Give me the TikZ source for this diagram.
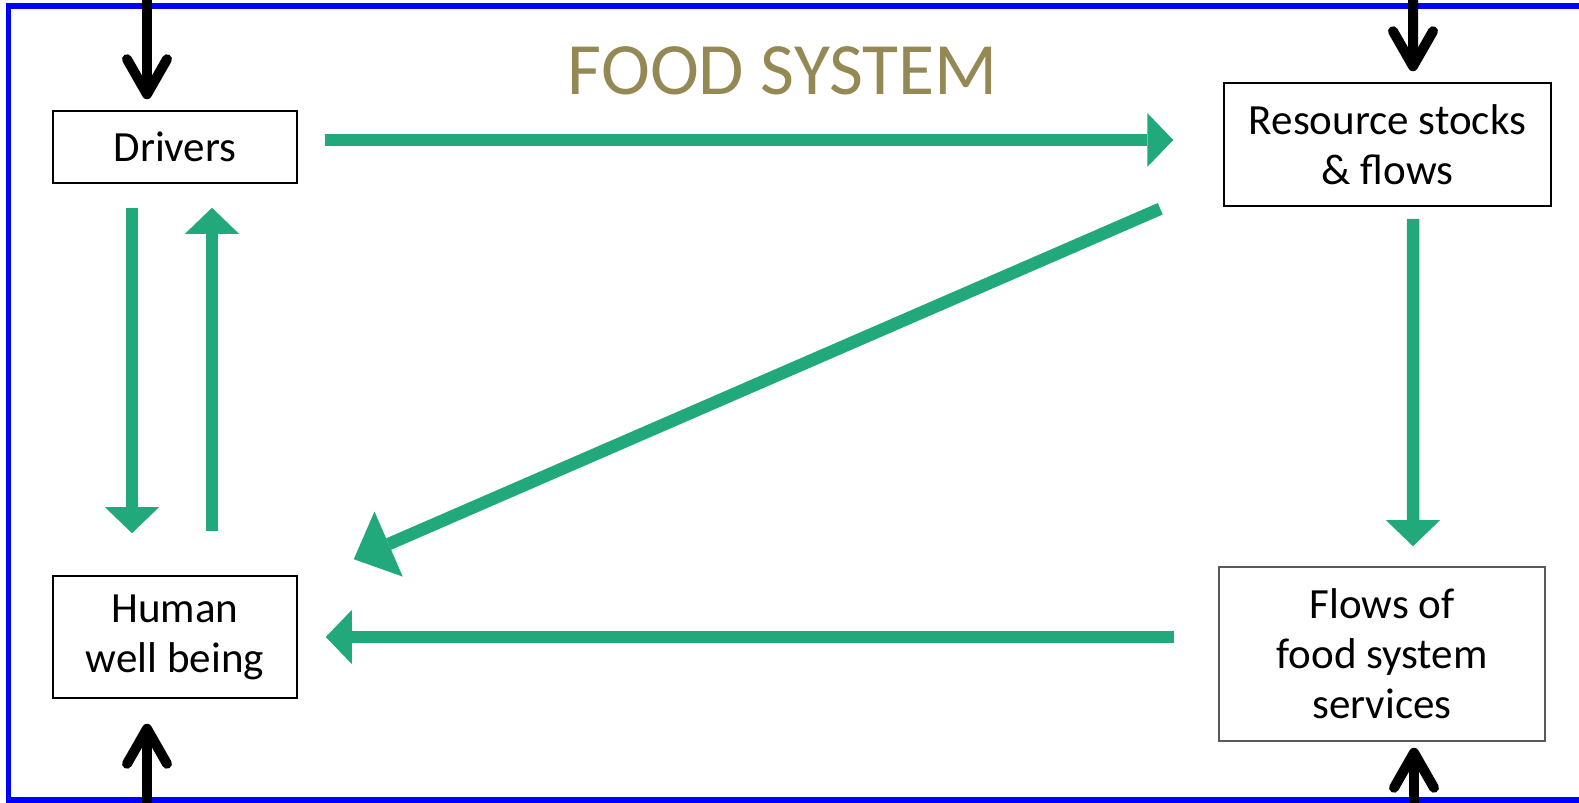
\documentclass[tikz,border=0pt]{standalone}
\usepackage{fontspec}
\setmainfont{Carlito}
\usetikzlibrary{arrows.meta, calc}
\definecolor{flowgreen}{RGB}{33,169,123}
\definecolor{titleolive}{RGB}{148,137,84}

\begin{document}
\begin{tikzpicture}[
        x=0.02cm, y=-0.02cm,
        box/.style={
            draw,
            rectangle,
            line width=0.9pt,
            inner sep=0pt,
            align=center,
            font=\fontsize{24.5}{28.5}\selectfont
        },
        flow/.style={-{Triangle[length=0.52cm, width=1.08cm, line width=0pt]}, line width=0.25cm, draw=flowgreen},
        bigflow/.style={-{Triangle[length=0.76cm, width=1.42cm, line width=0pt]}, line width=0.25cm, draw=flowgreen},
        outside/.style={-{Straight Barb[round, length=0.7cm, width=0.8cm]}, line width=0.2cm, line cap=round}
    ]
    \useasboundingbox (0,0) rectangle (1579,803);

    % Food system frame (open on the right)
    \draw[blue, line width=0.12cm] (1600,6) -- (8.5,6) -- (8.5,800) -- (1600,800);

    % Title
    \node[text=titleolive, font=\fontsize{42}{50}\selectfont] (title) at (783,71) {FOOD SYSTEM};

    % Corner boxes
    \node[box, minimum width=4.88cm, minimum height=1.44cm] (drivers) at (175,147) {Drivers};
    \node[box, minimum width=6.54cm, minimum height=2.46cm] (resource) at (1387.5,144.5) {Resource stocks\\ \& flows};
    \node[box, minimum width=4.88cm, minimum height=2.44cm] (human) at (175,637) {Human\\ well being};
    \node[box, draw=black!65, minimum width=6.52cm, minimum height=3.48cm] (flows) at (1382,654) {Flows of\\ food system\\ services};

    % Outside inputs
    \coordinate (topleft) at (147,-10);
    \coordinate (topright) at (1413,-10);
    \coordinate (bottomleft) at (147,815);
    \coordinate (bottomright) at (1414,815);

    \draw[outside] (topleft) -- ($(drivers.north)+(-28,-11)$);
    \draw[outside] (topright) -- ($(resource.north)+(25.5,-11)$);
    \draw[outside] (bottomleft) -- ($(human.south)+(-28,25)$);
    \draw[outside] (bottomright) -- ($(flows.south)+(32,6)$);

    % Arrows inside the food system
    \draw[flow] ($(drivers.east)+(27,-7)$) -- ($(resource.west)+(-50,-4.5)$);
    \draw[flow] ($(drivers.south)+(-43,24)$) -- ($(human.north)+(-43,-42)$);
    \draw[flow] ($(human.north)+(37,-44)$) -- ($(drivers.south)+(37,24)$);
    \draw[flow] ($(resource.south)+(25.5,12)$) -- ($(flows.north)+(31,-20)$);
    \draw[bigflow] ($(resource.south west)+(-63,2)$) -- ($(human.north east)+(56,-16)$);
    \draw[flow] ($(flows.west)+(-44,-17)$) -- ($(human.east)+(28,0)$);

\end{tikzpicture}
\end{document}
